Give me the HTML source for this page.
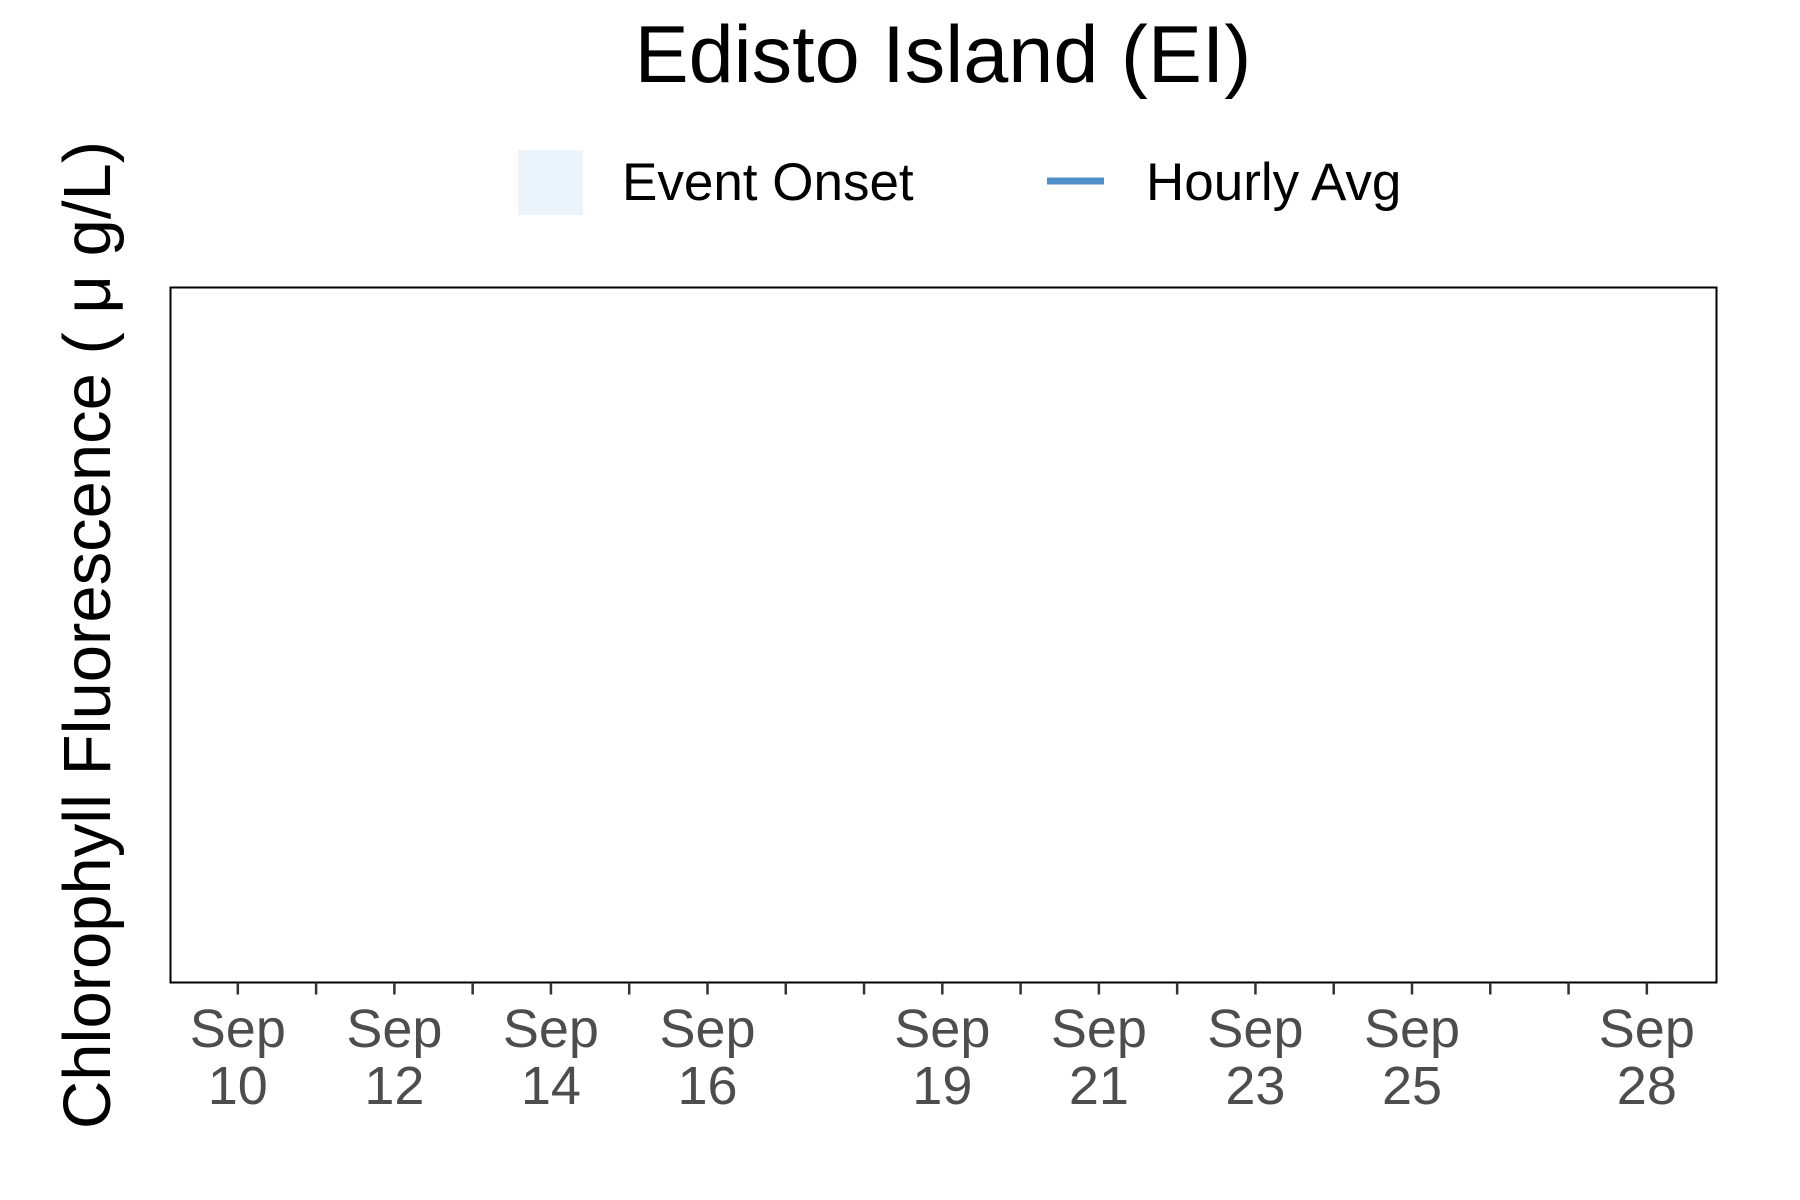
<!DOCTYPE html>
<html><head><meta charset="utf-8"><style>
html,body{margin:0;padding:0;background:#fff;}
svg{display:block;font-family:"Liberation Sans",Arial,sans-serif;}
</style></head><body>
<svg id="chart" width="1800" height="1200" viewBox="0 0 1800 1200" xmlns="http://www.w3.org/2000/svg">
<rect width="1800" height="1200" fill="#fff"/>
<text x="943" y="82" font-size="81" text-anchor="middle" fill="#000">Edisto Island (EI)</text>
<g>
<rect x="518" y="150" width="65" height="65" fill="#ebf3fb"/>
<text x="622" y="200" font-size="53" fill="#000">Event Onset</text>
<line x1="1047" y1="181" x2="1104" y2="181" stroke="#4f8fcb" stroke-width="7"/>
<text x="1146" y="200" font-size="53" fill="#000">Hourly Avg</text>
</g>
<text transform="translate(110,635) rotate(-90)" font-size="67" text-anchor="middle" fill="#000">Chlorophyll Fluorescence ( μ g/L)</text>
<rect x="170.5" y="287.5" width="1546" height="695" fill="#fff" stroke="#000" stroke-width="2"/>
<g id="xaxis"></g>
</svg>
<script>
const majorDays = [10, 12, 14, 16, 19, 21, 23, 25, 28];
const majorLabels = ["10", "12", "14", "16", "19", "21", "23", "25", "28"];
const minorDays = [11, 13, 15, 17, 18, 20, 22, 24, 26, 27];
const domain = [9.14, 28.89];
const L = 170.5, R = 1716.5, B = 982.5;
function x(d){ return L + (d - domain[0]) / (domain[1] - domain[0]) * (R - L); }
const ns = "http://www.w3.org/2000/svg";
const g = document.getElementById('xaxis');
function tick(d, cls){
  const t = document.createElementNS(ns, 'line');
  t.setAttribute('x1', x(d)); t.setAttribute('x2', x(d));
  t.setAttribute('y1', B); t.setAttribute('y2', B + 12);
  t.setAttribute('stroke', '#333'); t.setAttribute('stroke-width', '2.5');
  
  
  g.appendChild(t);
}
minorDays.forEach(d => tick(d, 'x-minor-tick'));
majorDays.forEach((d, i) => {
  tick(d, 'x-major-tick');
  const tx = document.createElementNS(ns, 'text');
  tx.setAttribute('x', x(d)); tx.setAttribute('text-anchor', 'middle');
  tx.setAttribute('font-size', '54'); tx.setAttribute('fill', '#4d4d4d');
  
  
  const a = document.createElementNS(ns, 'tspan');
  a.setAttribute('x', x(d)); a.setAttribute('y', 1047); a.textContent = 'Sep';
  const b = document.createElementNS(ns, 'tspan');
  b.setAttribute('x', x(d)); b.setAttribute('y', 1104); b.textContent = majorLabels[i];
  tx.appendChild(a); tx.appendChild(b);
  g.appendChild(tx);
});
</script>
</body></html>
